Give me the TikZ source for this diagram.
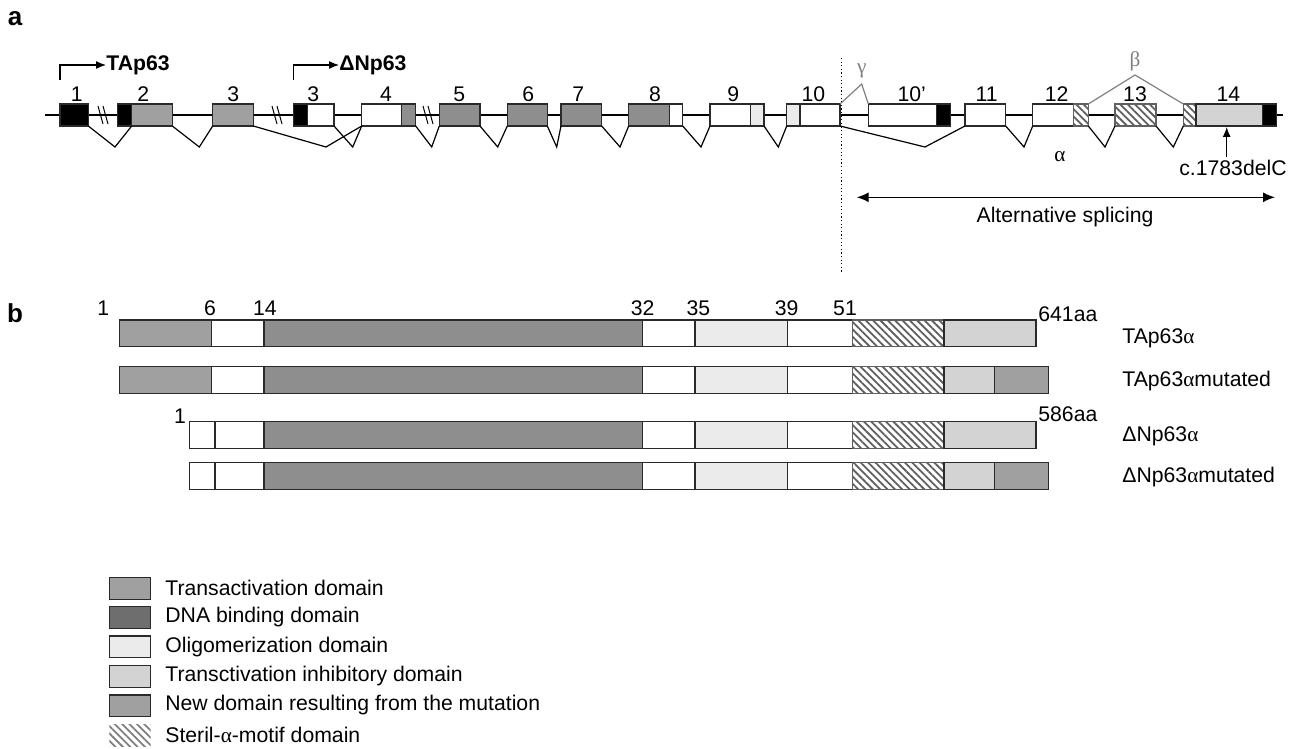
\documentclass[tikz,border=0pt]{standalone}
\usepackage{fontspec}
\setmainfont{Liberation Sans}
\newfontfamily\grk{Liberation Serif}
\newcommand\ga{{\grk α}}
\usetikzlibrary{arrows.meta,patterns.meta}
\definecolor{tagray}{HTML}{A0A0A0}
\definecolor{dnagray}{HTML}{8E8E8E}
\definecolor{dnaleg}{HTML}{6E6E6E}
\definecolor{oligo}{HTML}{EBEBEB}
\definecolor{inhib}{HTML}{D3D3D3}
\definecolor{edge}{HTML}{2A2A2A}
\definecolor{hatch}{HTML}{606060}
\definecolor{greek}{HTML}{808080}
\newcommand\exseg[6]{\node[seg,#6,anchor=south west,minimum width={(#3-#2)*0.5pt},minimum height={(#5-#4)*0.5pt}] (#1) at (#2,#5) {};}
\tikzset{
  seg/.style={draw=edge,line width=0.7pt,inner sep=0pt,outer sep=0pt,rectangle},
  blk/.style={fill=black},
  wht/.style={fill=white},
  tad/.style={fill=tagray},
  dnad/.style={fill=dnagray},
  olig/.style={fill=oligo},
  inh/.style={fill=inhib},
  sam/.style={preaction={fill=white},pattern={Lines[angle=-45,distance=2.6pt,line width=0.9pt]},pattern color=hatch,draw=hatch},
  txt/.style={font=\fontsize{10.6}{12}\selectfont,inner sep=0pt},
  btxt/.style={font=\fontsize{10.6}{12}\selectfont\bfseries,inner sep=0pt},
  plabel/.style={font=\fontsize{13}{15}\selectfont\bfseries,inner sep=0pt},
  splice/.style={line width=0.6pt},
  gline/.style={line width=0.6pt},
  brk/.style={line width=0.5pt},
  gk/.style={draw=greek,line width=0.6pt},
}
\begin{document}
\begin{tikzpicture}[x=0.5pt,y=-0.5pt]
\useasboundingbox (0,0) rectangle (1290,749);
% panel labels
\node[plabel] (pa) at (15,19) {a};
\node[plabel] (pb) at (15,313) {b};
% gene line
\coordinate (gl) at (45,115);
\coordinate (gr) at (1283,115);
\draw[gline] (gl) -- (gr);
% breaks
\foreach \bx [count=\i] in {98,272,423}{
  \coordinate (bka\i) at (\bx,106); \coordinate (bkb\i) at (\bx+5,124);
  \coordinate (bkc\i) at (\bx+5,106); \coordinate (bkd\i) at (\bx+10,124);
  \draw[brk] (bka\i) -- (bkb\i); \draw[brk] (bkc\i) -- (bkd\i);
}
% exons
\exseg{e1}{60}{88.3}{104}{126}{blk}
\exseg{e2a}{117.7}{131.7}{104}{126}{blk}
\exseg{e2b}{131.7}{172.3}{104}{126}{tad}
\exseg{e3}{212.7}{253.3}{104}{126}{tad}
\exseg{e3na}{293.3}{307.7}{104}{126}{blk}
\exseg{e3nb}{307.7}{334}{104}{126}{wht}
\exseg{e4a}{361.7}{401.7}{104}{126}{wht}
\exseg{e4b}{401.7}{415.7}{104}{126}{dnad}
\exseg{e5}{439.3}{480}{104}{126}{dnad}
\exseg{e6}{507.3}{547.3}{104}{126}{dnad}
\exseg{e7}{561}{601.7}{104}{126}{dnad}
\exseg{e8a}{628.7}{669.3}{104}{126}{dnad}
\exseg{e8b}{669.3}{682.7}{104}{126}{wht}
\exseg{e9a}{710}{750.7}{104}{126}{wht}
\exseg{e9b}{750.7}{764}{104}{126}{olig}
\exseg{e10a}{786.7}{800}{104}{126}{olig}
\exseg{e10b}{800}{840}{104}{126}{wht}
\exseg{e10pa}{868.3}{936.7}{104}{126}{wht}
\exseg{e10pb}{936.7}{950.7}{104}{126}{blk}
\exseg{e11}{965}{1005.7}{104}{126}{wht}
\exseg{e12a}{1032.7}{1073.3}{104}{126}{wht}
\exseg{e12b}{1073.3}{1088.3}{104}{126}{sam}
\exseg{e13}{1115}{1156}{104}{126}{sam}
\exseg{e14a}{1183.3}{1196}{104}{126}{sam}
\exseg{e14b}{1196}{1262.7}{104}{126}{inh}
\exseg{e14c}{1262.7}{1276.7}{104}{126}{blk}
% exon numbers
\foreach \nm/\lx/\lt in {n1/76.7/1,n2/143.3/2,n3/233.3/3,n3n/313.3/3,n4/386/4,n5/459.3/5,n6/528.3/6,n7/578.3/7,n8/655/8,n9/733.3/9,n10/813.3/10,n10p/911.7/10’,n11/986.7/11,n12/1056.7/12,n13/1135/13,n14/1228.3/14}
  \node[txt] (\nm) at (\lx,94) {\lt};
% splicing
\coordinate (v1) at (115,147);
\coordinate (v2) at (199.3,147);
\coordinate (v3) at (326,147);
\coordinate (v4) at (352.7,147);
\coordinate (v5) at (431.7,147);
\coordinate (v6) at (497.7,147);
\coordinate (v7) at (556.7,147);
\coordinate (v8) at (620,147);
\coordinate (v9) at (701,147);
\coordinate (v10) at (778.3,147);
\coordinate (v11) at (925,147);
\coordinate (v12) at (1024,147);
\coordinate (v13) at (1105,147);
\coordinate (v14) at (1173.3,147);
\draw[splice] (e1.south east) -- (v1) -- (e2a.south east);
\draw[splice] (e2b.south east) -- (v2) -- (e3.south west);
\draw[splice] (e3.south east) -- (v3) -- (e4a.south west);
\draw[splice] (e3nb.south east) -- (v4) -- (e4a.south west);
\draw[splice] (e4b.south east) -- (v5) -- (e5.south west);
\draw[splice] (e5.south east) -- (v6) -- (e6.south west);
\draw[splice] (e6.south east) -- (v7) -- (e7.south west);
\draw[splice] (e7.south east) -- (v8) -- (e8a.south west);
\draw[splice] (e8b.south east) -- (v9) -- (e9a.south west);
\draw[splice] (e9b.south east) -- (v10) -- (e10a.south west);
\draw[splice] (e10b.south east) -- (v11) -- (e11.south west);
\draw[splice] (e11.south east) -- (v12) -- (e12a.south west);
\draw[splice] (e12b.south east) -- (v13) -- (e13.south west);
\draw[splice] (e13.south east) -- (v14) -- (e14a.south west);
% gamma / beta
\coordinate (gtop) at (861.7,84);
\coordinate (btop) at (1135,75);
\draw[gk] (e10b.north east) -- (gtop) -- (e10pa.north west);
\draw[gk] (e12b.north east) -- (btop) -- (e14a.north west);
\node[txt,text=greek] (gam) at (861.7,71) {\grk γ};
\node[txt,text=greek] (bet) at (1135,61) {\grk β};
\node[txt] (alp) at (1060,157) {\ga};
% promoters
\coordinate (tas) at (60,80);
\coordinate (dns) at (293.3,80);
\node[btxt,anchor=west] (tap) at (106,65) {TAp63};
\node[btxt,anchor=west] (dnp) at (339,65) {ΔNp63};
\draw[line width=0.6pt,-{Latex[length=5pt,width=4pt]}] (tas) |- (tap.west);
\draw[line width=0.6pt,-{Latex[length=5pt,width=4pt]}] (dns) |- (dnp.west);
% mutation
\node[txt] (mut) at (1233,168) {c.1783delC};
\coordinate (muta) at (1226.7,157);
\coordinate (mutb) at (1226.7,127);
\draw[line width=0.6pt,-{Latex[length=5pt,width=4pt]}] (muta) -- (mutb);
% dotted line
\coordinate (dta) at (841,58);
\coordinate (dtb) at (841,272);
\draw[line width=0.5pt,dash pattern=on 0.6pt off 1.2pt] (dta) -- (dtb);
% alternative splicing
\coordinate (asl) at (856.7,197.3);
\coordinate (asr) at (1275,197.3);
\draw[line width=0.7pt,{Latex[length=6pt,width=5pt]}-{Latex[length=6pt,width=5pt]}] (asl) -- (asr);
\node[txt] (alts) at (1065,217) {Alternative splicing};
% panel b
\foreach \r/\ya/\yb/\mt/\dn in {1/320/346.7/0/0,2/366.7/393.3/1/0,3/421.7/448.3/0/1,4/462.7/489.3/1/1}{
  \ifnum\dn=0
    \exseg{r\r a}{119.3}{211.7}{\ya}{\yb}{tad}
    \exseg{r\r b}{211.7}{264}{\ya}{\yb}{wht}
  \else
    \exseg{r\r a}{189.3}{215}{\ya}{\yb}{wht}
    \exseg{r\r b}{215}{264}{\ya}{\yb}{wht}
  \fi
  \exseg{r\r c}{264}{642.7}{\ya}{\yb}{dnad}
  \exseg{r\r d}{642.7}{695}{\ya}{\yb}{wht}
  \exseg{r\r e}{695}{787.3}{\ya}{\yb}{olig}
  \exseg{r\r f}{787.3}{852.7}{\ya}{\yb}{wht}
  \exseg{r\r g}{852.7}{944}{\ya}{\yb}{sam}
  \ifnum\mt=0
    \exseg{r\r h}{944}{1036}{\ya}{\yb}{inh}
  \else
    \exseg{r\r h}{944}{994.3}{\ya}{\yb}{inh}
    \exseg{r\r i}{994.3}{1048.3}{\ya}{\yb}{tad}
  \fi
}
\foreach \nm/\lx/\lt in {p1/103.3/1,p6/210/6,p14/265/14,p32/642.7/32,p35/698.3/35,p39/786.7/39,p51/845/51}
  \node[txt] (\nm) at (\lx,308) {\lt};
\node[txt] (q1) at (180,416) {1};
\node[txt,anchor=west] (aa1) at (1038,314) {641aa};
\node[txt,anchor=west] (aa2) at (1038,414) {586aa};
\node[txt,anchor=west] (l1) at (1122,338) {TAp63\ga};
\node[txt,anchor=west] (l2) at (1122,381) {TAp63\ga mutated};
\node[txt,anchor=west] (l3) at (1122,436) {ΔNp63\ga};
\node[txt,anchor=west] (l4) at (1122,477) {ΔNp63\ga mutated};
% legend
\exseg{k1}{109.3}{150.7}{577.3}{599.3}{tad}
\exseg{k2}{109.3}{150.7}{606.7}{628.3}{fill=dnaleg}
\exseg{k3}{109.3}{150.7}{636}{657.3}{olig}
\exseg{k4}{109.3}{150.7}{665.7}{687.3}{inh}
\exseg{k5}{109.3}{150.7}{695}{716.7}{tad}
\exseg{k6}{109.3}{150.7}{724}{746}{sam,draw=none,pattern color=hatch!80}
\node[txt,anchor=west] (t1) at (165,588) {Transactivation domain};
\node[txt,anchor=west] (t2) at (165,617) {DNA binding domain};
\node[txt,anchor=west] (t3) at (165,647) {Oligomerization domain};
\node[txt,anchor=west] (t4) at (165,676) {Transctivation inhibitory domain};
\node[txt,anchor=west] (t5) at (165,705) {New domain resulting from the mutation};
\node[txt,anchor=west] (t6) at (165,735) {Steril-\ga-motif domain};
\end{tikzpicture}
\end{document}
